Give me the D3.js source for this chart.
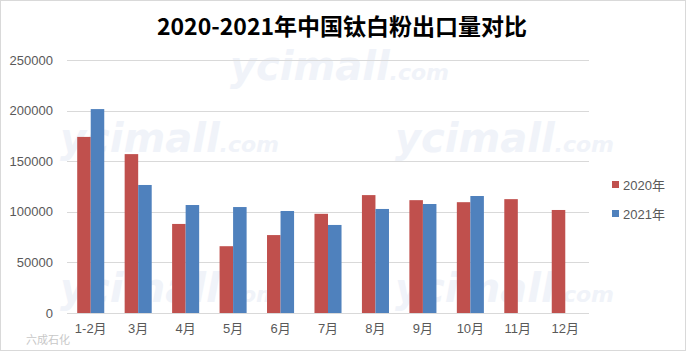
<!DOCTYPE html>
<html>
<head>
  <meta charset="utf-8">
  <script src="https://cdn.jsdelivr.net/npm/d3@7/dist/d3.min.js"></script>
  <style>
    body { margin: 0; background: #fff; }
    svg { font-family: "Liberation Sans", Arial, "Noto Sans CJK SC", sans-serif; }
  </style>
</head>
<body>
<svg id="chart" width="686" height="351"></svg>
<script>
  // data
  var months = ['1-2月', '3月', '4月', '5月', '6月', '7月', '8月', '9月', '10月', '11月', '12月'];
  var y2020 = [174000, 157000, 88000, 66000, 77000, 98000, 116500, 111500, 109500, 112500, 101800];
  var y2021 = [201500, 126500, 106700, 104700, 100800, 87000, 102800, 107700, 115600, null, null];
  var seriesNames = ['2020年', '2021年'];
  var colors = ['#C0504D', '#4F81BD'];
  var yTicks = [0, 50000, 100000, 150000, 200000, 250000];

  var svg = d3.select('#chart'),
    width = +svg.attr('width'),
    height = +svg.attr('height');

  svg.append('rect')
    .attr('x', 0.5).attr('y', 0.5)
    .attr('width', width - 1).attr('height', height - 1)
    .attr('fill', '#fff').attr('stroke', '#d9d9d9');

  var margin = { left: 67, right: 97, top: 60, bottom: 38 };

  var x = d3.scaleBand()
    .domain(months)
    .range([margin.left, width - margin.right])
    .paddingInner(0.43)
    .paddingOuter(0.215);

  var x1 = d3.scaleBand()
    .domain(seriesNames)
    .range([0, x.bandwidth()]);

  var y = d3.scaleLinear()
    .domain([0, 250000])
    .range([height - margin.bottom, margin.top]);

  // faint watermarks
  var wm = svg.append('g').attr('fill', '#f0f3f9').attr('font-style', 'italic')
    .attr('font-weight', 'bold').attr('font-family', '"DejaVu Sans", sans-serif');
  [[230, 80], [395, 152], [60, 152], [60, 302], [395, 302]].forEach(function (p) {
    var t = wm.append('text').attr('x', p[0]).attr('y', p[1]).attr('font-size', 40);
    t.append('tspan').text('ycimall');
    t.append('tspan').attr('font-size', 22).text('.com');
  });

  // gridlines
  svg.append('g')
    .selectAll('line')
    .data(yTicks)
    .enter()
    .append('line')
    .attr('x1', margin.left)
    .attr('x2', width - margin.right)
    .attr('y1', function (d) { return Math.round(y(d)) + 0.5; })
    .attr('y2', function (d) { return Math.round(y(d)) + 0.5; })
    .attr('stroke', '#d9d9d9');

  // y axis labels
  svg.append('g')
    .selectAll('text')
    .data(yTicks)
    .enter()
    .append('text')
    .attr('x', 53)
    .attr('y', function (d) { return y(d); })
    .attr('dy', '0.35em')
    .attr('text-anchor', 'end')
    .attr('font-size', 13)
    .attr('fill', '#595959')
    .text(function (d) { return d; });

  // bars
  var data = [y2020, y2021];
  data.forEach(function (vals, si) {
    svg.append('g')
      .attr('fill', colors[si])
      .selectAll('rect')
      .data(months.map(function (m, i) { return { m: m, v: vals[i] }; })
        .filter(function (d) { return d.v != null; }))
      .enter()
      .append('rect')
      .attr('x', function (d) { return x(d.m) + x1(seriesNames[si]); })
      .attr('width', x1.bandwidth())
      .attr('y', function (d) { return y(d.v); })
      .attr('height', function (d) { return y(0) - y(d.v); });
  });

  // x labels
  svg.append('g')
    .selectAll('text')
    .data(months)
    .enter()
    .append('text')
    .attr('x', function (d) { return x(d) + x.bandwidth() / 2; })
    .attr('y', height - margin.bottom + 20)
    .attr('text-anchor', 'middle')
    .attr('font-size', 13)
    .attr('fill', '#595959')
    .text(function (d) { return d; });

  // legend
  var legend = svg.append('g')
    .selectAll('g')
    .data(seriesNames)
    .enter()
    .append('g')
    .attr('transform', function (d, i) { return 'translate(612,' + (181 + i * 29) + ')'; });
  legend.append('rect')
    .attr('width', 7).attr('height', 7)
    .attr('fill', function (d, i) { return colors[i]; });
  legend.append('text')
    .attr('x', 11).attr('y', 4)
    .attr('dy', '0.35em')
    .attr('font-size', 13)
    .attr('fill', '#595959')
    .text(function (d) { return d; });

  // title
  svg.append('text')
    .attr('x', 342)
    .attr('y', 35)
    .attr('text-anchor', 'middle')
    .attr('font-size', 23)
    .attr('font-weight', 'bold')
    .attr('fill', '#000')
    .attr('font-family', '"Noto Sans CJK SC", sans-serif')
    .text('2020-2021年中国钛白粉出口量对比');

  // bottom-left watermark
  svg.append('text')
    .attr('x', 26).attr('y', 344)
    .attr('font-size', 11)
    .attr('fill', '#c8c8c8')
    .text('六成石化');
</script>
</body>
</html>
